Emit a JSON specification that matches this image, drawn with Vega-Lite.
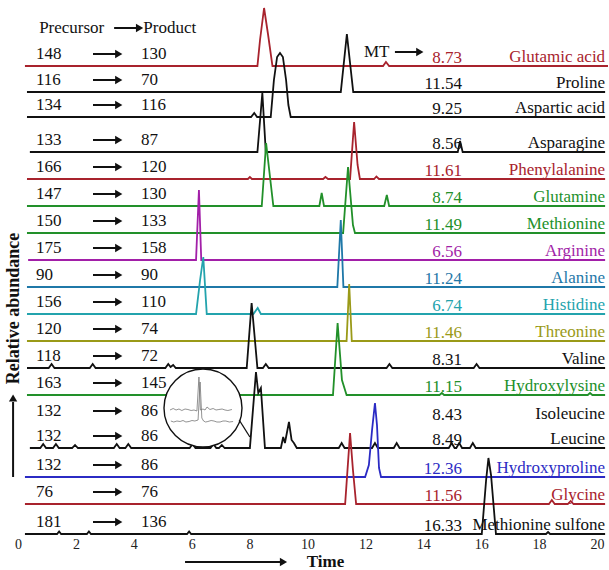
{
  "$schema": "https://vega.github.io/schema/vega-lite/v6.json",
  "width": 579,
  "height": 534,
  "autosize": {"type": "none"},
  "padding": {"left": 18, "top": 0, "right": 12, "bottom": 36},
  "background": "white",
  "config": {
    "view": {"stroke": null},
    "font": "Liberation Serif",
    "text": {"font": "Liberation Serif", "fontSize": 17}
  },
  "datasets": {
    "traces": [
      {"name":"Glutamic acid","t":0.24,"v":468},{"name":"Glutamic acid","t":8.27,"v":468},{"name":"Glutamic acid","t":8.36,"v":494},{"name":"Glutamic acid","t":8.5,"v":526},{"name":"Glutamic acid","t":8.64,"v":499},{"name":"Glutamic acid","t":8.79,"v":468},{"name":"Glutamic acid","t":12.61,"v":468},{"name":"Glutamic acid","t":12.71,"v":472},{"name":"Glutamic acid","t":12.82,"v":468},{"name":"Glutamic acid","t":20.38,"v":468},
      {"name":"Proline","t":0.31,"v":442},{"name":"Proline","t":11.15,"v":442},{"name":"Proline","t":11.36,"v":500},{"name":"Proline","t":11.58,"v":442},{"name":"Proline","t":20.28,"v":442},
      {"name":"Aspartic acid","t":0.31,"v":417},{"name":"Aspartic acid","t":8.05,"v":417},{"name":"Aspartic acid","t":8.16,"v":421},{"name":"Aspartic acid","t":8.26,"v":417},{"name":"Aspartic acid","t":8.73,"v":417},{"name":"Aspartic acid","t":8.84,"v":454},{"name":"Aspartic acid","t":8.95,"v":477},{"name":"Aspartic acid","t":9.05,"v":481},{"name":"Aspartic acid","t":9.15,"v":477},{"name":"Aspartic acid","t":9.26,"v":454},{"name":"Aspartic acid","t":9.34,"v":429},{"name":"Aspartic acid","t":9.42,"v":417},{"name":"Aspartic acid","t":20.28,"v":417},
      {"name":"Asparagine","t":0.41,"v":382},{"name":"Asparagine","t":8.27,"v":382},{"name":"Asparagine","t":8.44,"v":441},{"name":"Asparagine","t":8.56,"v":382},{"name":"Asparagine","t":15.19,"v":382},{"name":"Asparagine","t":15.27,"v":393},{"name":"Asparagine","t":15.36,"v":382},{"name":"Asparagine","t":20.28,"v":382},
      {"name":"Phenylalanine","t":0.31,"v":355},{"name":"Phenylalanine","t":7.94,"v":355},{"name":"Phenylalanine","t":8.01,"v":357},{"name":"Phenylalanine","t":8.08,"v":355},{"name":"Phenylalanine","t":10.54,"v":355},{"name":"Phenylalanine","t":10.62,"v":357},{"name":"Phenylalanine","t":10.71,"v":355},{"name":"Phenylalanine","t":11.47,"v":355},{"name":"Phenylalanine","t":11.61,"v":412},{"name":"Phenylalanine","t":11.73,"v":369},{"name":"Phenylalanine","t":11.81,"v":355},{"name":"Phenylalanine","t":12.3,"v":355},{"name":"Phenylalanine","t":12.38,"v":357.5},{"name":"Phenylalanine","t":12.47,"v":355},{"name":"Phenylalanine","t":20.28,"v":355},
      {"name":"Glutamine","t":0.31,"v":328},{"name":"Glutamine","t":8.42,"v":328},{"name":"Glutamine","t":8.57,"v":391},{"name":"Glutamine","t":8.82,"v":328},{"name":"Glutamine","t":10.41,"v":328},{"name":"Glutamine","t":10.49,"v":341},{"name":"Glutamine","t":10.57,"v":328},{"name":"Glutamine","t":12.65,"v":328},{"name":"Glutamine","t":12.74,"v":339},{"name":"Glutamine","t":12.82,"v":328},{"name":"Glutamine","t":20.28,"v":328},
      {"name":"Methionine","t":0.31,"v":301},{"name":"Methionine","t":11.23,"v":301},{"name":"Methionine","t":11.4,"v":367},{"name":"Methionine","t":11.57,"v":309},{"name":"Methionine","t":11.64,"v":301},{"name":"Methionine","t":20.28,"v":301},
      {"name":"Arginine","t":0.35,"v":274},{"name":"Arginine","t":6.15,"v":274},{"name":"Arginine","t":6.25,"v":344},{"name":"Arginine","t":6.33,"v":274},{"name":"Arginine","t":20.28,"v":274},
      {"name":"Alanine","t":0.31,"v":247},{"name":"Alanine","t":11.03,"v":247},{"name":"Alanine","t":11.15,"v":314},{"name":"Alanine","t":11.24,"v":247},{"name":"Alanine","t":20.28,"v":247},
      {"name":"Histidine","t":0.31,"v":220},{"name":"Histidine","t":6.15,"v":220},{"name":"Histidine","t":6.29,"v":254},{"name":"Histidine","t":6.4,"v":277},{"name":"Histidine","t":6.52,"v":220},{"name":"Histidine","t":8.13,"v":220},{"name":"Histidine","t":8.28,"v":226},{"name":"Histidine","t":8.39,"v":220},{"name":"Histidine","t":20.28,"v":220},
      {"name":"Threonine","t":0.31,"v":193},{"name":"Threonine","t":11.35,"v":193},{"name":"Threonine","t":11.44,"v":250},{"name":"Threonine","t":11.53,"v":193},{"name":"Threonine","t":20.28,"v":193},
      {"name":"Valine","t":0.31,"v":166},{"name":"Valine","t":1.06,"v":166},{"name":"Valine","t":1.16,"v":170},{"name":"Valine","t":1.26,"v":166},{"name":"Valine","t":2.48,"v":166},{"name":"Valine","t":2.58,"v":170},{"name":"Valine","t":2.68,"v":166},{"name":"Valine","t":5.09,"v":166},{"name":"Valine","t":5.19,"v":170},{"name":"Valine","t":5.27,"v":167},{"name":"Valine","t":5.36,"v":169},{"name":"Valine","t":5.45,"v":166},{"name":"Valine","t":7.9,"v":166},{"name":"Valine","t":8.07,"v":231},{"name":"Valine","t":8.27,"v":166},{"name":"Valine","t":8.46,"v":166},{"name":"Valine","t":8.56,"v":170},{"name":"Valine","t":8.66,"v":166},{"name":"Valine","t":12.73,"v":166},{"name":"Valine","t":12.83,"v":170},{"name":"Valine","t":12.93,"v":166},{"name":"Valine","t":15.74,"v":166},{"name":"Valine","t":15.84,"v":170},{"name":"Valine","t":15.94,"v":166},{"name":"Valine","t":20.28,"v":166},
      {"name":"Hydroxylysine","t":0.31,"v":139},{"name":"Hydroxylysine","t":10.88,"v":139},{"name":"Hydroxylysine","t":11.04,"v":211},{"name":"Hydroxylysine","t":11.19,"v":154},{"name":"Hydroxylysine","t":11.35,"v":139},{"name":"Hydroxylysine","t":14.56,"v":139},{"name":"Hydroxylysine","t":14.64,"v":141},{"name":"Hydroxylysine","t":14.72,"v":139},{"name":"Hydroxylysine","t":19.68,"v":139},{"name":"Hydroxylysine","t":19.76,"v":141},{"name":"Hydroxylysine","t":19.84,"v":139},{"name":"Hydroxylysine","t":20.28,"v":139},
      {"name":"Leucine","t":0.41,"v":86},{"name":"Leucine","t":0.77,"v":86},{"name":"Leucine","t":0.87,"v":90},{"name":"Leucine","t":0.97,"v":86},{"name":"Leucine","t":1.21,"v":86},{"name":"Leucine","t":1.31,"v":90},{"name":"Leucine","t":1.41,"v":86},{"name":"Leucine","t":1.87,"v":86},{"name":"Leucine","t":1.97,"v":89},{"name":"Leucine","t":2.07,"v":86},{"name":"Leucine","t":3.31,"v":86},{"name":"Leucine","t":3.41,"v":90},{"name":"Leucine","t":3.51,"v":86},{"name":"Leucine","t":3.71,"v":86},{"name":"Leucine","t":3.81,"v":90},{"name":"Leucine","t":3.91,"v":86},{"name":"Leucine","t":5.93,"v":86},{"name":"Leucine","t":6.03,"v":90},{"name":"Leucine","t":6.13,"v":86},{"name":"Leucine","t":6.65,"v":86},{"name":"Leucine","t":6.75,"v":90},{"name":"Leucine","t":6.85,"v":86},{"name":"Leucine","t":6.94,"v":86},{"name":"Leucine","t":7.04,"v":89},{"name":"Leucine","t":7.14,"v":86},{"name":"Leucine","t":8.01,"v":86},{"name":"Leucine","t":8.22,"v":162},{"name":"Leucine","t":8.3,"v":141},{"name":"Leucine","t":8.39,"v":146},{"name":"Leucine","t":8.53,"v":86},{"name":"Leucine","t":9.08,"v":86},{"name":"Leucine","t":9.16,"v":97},{"name":"Leucine","t":9.22,"v":91},{"name":"Leucine","t":9.36,"v":112},{"name":"Leucine","t":9.45,"v":94},{"name":"Leucine","t":9.53,"v":91},{"name":"Leucine","t":9.63,"v":86},{"name":"Leucine","t":11.08,"v":86},{"name":"Leucine","t":11.18,"v":91},{"name":"Leucine","t":11.28,"v":86},{"name":"Leucine","t":12.23,"v":86},{"name":"Leucine","t":12.33,"v":91},{"name":"Leucine","t":12.43,"v":86},{"name":"Leucine","t":12.98,"v":86},{"name":"Leucine","t":13.08,"v":91},{"name":"Leucine","t":13.18,"v":86},{"name":"Leucine","t":14.88,"v":86},{"name":"Leucine","t":14.98,"v":91},{"name":"Leucine","t":15.08,"v":86},{"name":"Leucine","t":15.14,"v":86},{"name":"Leucine","t":15.24,"v":91},{"name":"Leucine","t":15.34,"v":86},{"name":"Leucine","t":15.61,"v":86},{"name":"Leucine","t":15.71,"v":91},{"name":"Leucine","t":15.81,"v":86},{"name":"Leucine","t":20.28,"v":86},
      {"name":"Hydroxyproline","t":0.24,"v":57},{"name":"Hydroxyproline","t":11.99,"v":57},{"name":"Hydroxyproline","t":12.12,"v":69},{"name":"Hydroxyproline","t":12.23,"v":104},{"name":"Hydroxyproline","t":12.33,"v":131},{"name":"Hydroxyproline","t":12.4,"v":109},{"name":"Hydroxyproline","t":12.47,"v":66},{"name":"Hydroxyproline","t":12.54,"v":57},{"name":"Hydroxyproline","t":20.28,"v":57},
      {"name":"Glycine","t":0.24,"v":30},{"name":"Glycine","t":11.3,"v":30},{"name":"Glycine","t":11.47,"v":101},{"name":"Glycine","t":11.57,"v":64},{"name":"Glycine","t":11.68,"v":30},{"name":"Glycine","t":18.34,"v":30},{"name":"Glycine","t":18.44,"v":34},{"name":"Glycine","t":18.54,"v":30},{"name":"Glycine","t":18.99,"v":30},{"name":"Glycine","t":19.09,"v":33},{"name":"Glycine","t":19.19,"v":30},{"name":"Glycine","t":20.28,"v":30},
      {"name":"Methionine sulfone","t":0.24,"v":0},{"name":"Methionine sulfone","t":1.35,"v":0},{"name":"Methionine sulfone","t":1.42,"v":2.5},{"name":"Methionine sulfone","t":1.49,"v":0},{"name":"Methionine sulfone","t":2.38,"v":0},{"name":"Methionine sulfone","t":2.45,"v":2.5},{"name":"Methionine sulfone","t":2.52,"v":0},{"name":"Methionine sulfone","t":5.84,"v":0},{"name":"Methionine sulfone","t":5.91,"v":2.5},{"name":"Methionine sulfone","t":5.98,"v":0},{"name":"Methionine sulfone","t":16.02,"v":0},{"name":"Methionine sulfone","t":16.17,"v":54},{"name":"Methionine sulfone","t":16.25,"v":76},{"name":"Methionine sulfone","t":16.34,"v":59},{"name":"Methionine sulfone","t":16.51,"v":0},{"name":"Methionine sulfone","t":18.24,"v":0},{"name":"Methionine sulfone","t":18.31,"v":2},{"name":"Methionine sulfone","t":18.38,"v":0},{"name":"Methionine sulfone","t":20.28,"v":0}
    ],
    "labels": [
      {"name":"Glutamic acid","pre":"148","prod":"130","mt":"8.73","v":468},
      {"name":"Proline","pre":"116","prod":"70","mt":"11.54","v":442},
      {"name":"Aspartic acid","pre":"134","prod":"116","mt":"9.25","v":417},
      {"name":"Asparagine","pre":"133","prod":"87","mt":"8.56","v":382},
      {"name":"Phenylalanine","pre":"166","prod":"120","mt":"11.61","v":355},
      {"name":"Glutamine","pre":"147","prod":"130","mt":"8.74","v":328},
      {"name":"Methionine","pre":"150","prod":"133","mt":"11.49","v":301},
      {"name":"Arginine","pre":"175","prod":"158","mt":"6.56","v":274},
      {"name":"Alanine","pre":"90","prod":"90","mt":"11.24","v":247},
      {"name":"Histidine","pre":"156","prod":"110","mt":"6.74","v":220},
      {"name":"Threonine","pre":"120","prod":"74","mt":"11.46","v":193},
      {"name":"Valine","pre":"118","prod":"72","mt":"8.31","v":166},
      {"name":"Hydroxylysine","pre":"163","prod":"145","mt":"11.15","v":139},
      {"name":"Isoleucine","pre":"132","prod":"86","mt":"8.43","v":111},
      {"name":"Leucine","pre":"132","prod":"86","mt":"8.49","v":86},
      {"name":"Hydroxyproline","pre":"132","prod":"86","mt":"12.36","v":57},
      {"name":"Glycine","pre":"76","prod":"76","mt":"11.56","v":30},
      {"name":"Methionine sulfone","pre":"181","prod":"136","mt":"16.33","v":0}
    ],
    "inset": [
      {"s":"a","t":5.25,"v":124},{"s":"a","t":5.36,"v":125.5},{"s":"a","t":5.46,"v":124},{"s":"a","t":5.56,"v":125},{"s":"a","t":5.66,"v":123.5},{"s":"a","t":5.77,"v":125},{"s":"a","t":5.87,"v":124.5},{"s":"a","t":5.98,"v":123.5},{"s":"a","t":6.08,"v":124},{"s":"a","t":6.18,"v":123},{"s":"a","t":6.25,"v":157},{"s":"a","t":6.3,"v":124},{"s":"a","t":6.39,"v":125},{"s":"a","t":6.46,"v":124},{"s":"a","t":6.53,"v":127},{"s":"a","t":6.63,"v":124.5},{"s":"a","t":6.74,"v":125.5},{"s":"a","t":6.84,"v":124},{"s":"a","t":6.94,"v":124.5},{"s":"a","t":7.05,"v":125},{"s":"a","t":7.15,"v":124},{"s":"a","t":7.25,"v":123.5},{"s":"a","t":7.39,"v":124.5},
      {"s":"b","t":5.28,"v":113},{"s":"b","t":5.38,"v":112},{"s":"b","t":5.49,"v":113},{"s":"b","t":5.6,"v":112.5},{"s":"b","t":5.7,"v":113.5},{"s":"b","t":5.8,"v":112},{"s":"b","t":5.91,"v":112.5},{"s":"b","t":6.01,"v":113.5},{"s":"b","t":6.11,"v":113},{"s":"b","t":6.22,"v":114},{"s":"b","t":6.29,"v":152},{"s":"b","t":6.35,"v":116},{"s":"b","t":6.41,"v":113},{"s":"b","t":6.48,"v":112},{"s":"b","t":6.56,"v":112.5},{"s":"b","t":6.67,"v":113.5},{"s":"b","t":6.77,"v":113},{"s":"b","t":6.87,"v":112},{"s":"b","t":6.98,"v":112},{"s":"b","t":7.08,"v":113},{"s":"b","t":7.18,"v":113},{"s":"b","t":7.3,"v":112},{"s":"b","t":7.43,"v":112.5}
    ]
  },
  "layer": [
    {
      "data": {"name": "traces"},
      "mark": {"type": "line", "strokeWidth": 1.8, "clip": false},
      "encoding": {
        "x": {"field": "t", "type": "quantitative",
          "scale": {"domain": [0, 20], "nice": false, "zero": false},
          "axis": {"title": "Time", "values": [0,1,2,3,4,5,6,7,8,9,10,11,12,13,14,15,16,17,18,19,20], "format": "d",
            "domain": false, "ticks": false, "tickSize": 0, "grid": false,
            "labelFont": "Liberation Serif", "labelFontSize": 14, "labelColor": "#222", "labelPadding": 3,
            "labelFlush": false, "labelOverlap": false,
            "titleFont": "Liberation Serif", "titleFontSize": 17, "titleFontWeight": "bold", "titleColor": "#111",
            "titleX": 307, "titleY": 27, "titleAlign": "center", "titleBaseline": "middle"}},
        "y": {"field": "v", "type": "quantitative",
          "scale": {"domain": [0, 534], "nice": false, "zero": false},
          "axis": {"title": "Relative abundance", "labels": false, "ticks": false, "domain": false, "grid": false,
            "titleFont": "Liberation Serif", "titleFontSize": 18, "titleFontWeight": "bold", "titleColor": "#111",
            "titleX": -5, "titleY": 308, "titleAngle": -90, "titleAlign": "center", "titleBaseline": "middle"}},
        "color": {"field": "name", "type": "nominal", "legend": null,
          "scale": {
            "domain": ["Glutamic acid","Proline","Aspartic acid","Asparagine","Phenylalanine","Glutamine","Methionine","Arginine","Alanine","Histidine","Threonine","Valine","Hydroxylysine","Isoleucine","Leucine","Hydroxyproline","Glycine","Methionine sulfone"],
            "range": ["#a8232d","#111111","#111111","#111111","#a8232d","#22902a","#22902a","#a21fa8","#1f78a8","#23a3ad","#9a9a18","#111111","#22902a","#111111","#111111","#2b2bc4","#a8232d","#111111"]}},
        "detail": {"field": "name"}
      }
    },
    {
      "data": {"values": [{"t": 6.39, "v": 126}]},
      "mark": {"type": "point", "shape": "circle", "size": 6084, "filled": true, "fill": "white", "stroke": "#111", "strokeWidth": 1.4, "opacity": 1},
      "encoding": {"x": {"field": "t", "type": "quantitative"}, "y": {"field": "v", "type": "quantitative"}}
    },
    {
      "data": {"name": "inset"},
      "mark": {"type": "line", "strokeWidth": 0.8, "color": "#777"},
      "encoding": {"x": {"field": "t", "type": "quantitative"}, "y": {"field": "v", "type": "quantitative"}, "detail": {"field": "s"}}
    },
    {
      "data": {"values": [{"t": 7.64, "v": 114, "t2": 8.01, "v2": 97}]},
      "mark": {"type": "rule", "strokeWidth": 1.3, "color": "#111"},
      "encoding": {"x": {"field": "t", "type": "quantitative"}, "y": {"field": "v", "type": "quantitative"}, "x2": {"field": "t2"}, "y2": {"field": "v2"}}
    },
    {
      "data": {"name": "labels"},
      "mark": {"type": "text", "align": "left", "baseline": "middle", "dy": -12, "color": "#111"},
      "encoding": {"x": {"datum": 0.62}, "y": {"field": "v", "type": "quantitative"}, "text": {"field": "pre"}}
    },
    {
      "data": {"name": "labels"},
      "mark": {"type": "text", "align": "left", "baseline": "middle", "dy": -12, "color": "#111"},
      "encoding": {"x": {"datum": 4.25}, "y": {"field": "v", "type": "quantitative"}, "text": {"field": "prod"}}
    },
    {
      "data": {"name": "labels"},
      "mark": {"type": "rule", "strokeWidth": 2, "color": "#111", "yOffset": -12, "y2Offset": -12},
      "encoding": {"x": {"datum": 2.59}, "x2": {"datum": 3.39}, "y": {"field": "v", "type": "quantitative"}}
    },
    {
      "data": {"name": "labels"},
      "mark": {"type": "point", "shape": "triangle-right", "filled": true, "size": 70, "color": "#111", "opacity": 1, "yOffset": -12},
      "encoding": {"x": {"datum": 3.48}, "y": {"field": "v", "type": "quantitative"}}
    },
    {
      "data": {"name": "labels"},
      "mark": {"type": "text", "align": "right", "baseline": "middle", "dy": -8},
      "encoding": {"x": {"datum": 15.34}, "y": {"field": "v", "type": "quantitative"}, "text": {"field": "mt"},
        "color": {"field": "name", "type": "nominal", "legend": null}}
    },
    {
      "data": {"name": "labels"},
      "mark": {"type": "text", "align": "right", "baseline": "middle", "dy": -9},
      "encoding": {"x": {"datum": 20.28}, "y": {"field": "v", "type": "quantitative"}, "text": {"field": "name"},
        "color": {"field": "name", "type": "nominal", "legend": null}}
    },
    {
      "data": {"values": [{"txt": "Precursor", "t": 0.73, "v": 506}, {"txt": "Product", "t": 4.33, "v": 506}, {"txt": "MT", "t": 11.95, "v": 482}]},
      "mark": {"type": "text", "align": "left", "baseline": "middle", "color": "#111"},
      "encoding": {"x": {"field": "t", "type": "quantitative"}, "y": {"field": "v", "type": "quantitative"}, "text": {"field": "txt"}}
    },
    {
      "data": {"values": [{"t": 3.32, "t2": 4.1, "v": 506}, {"t": 13.02, "t2": 13.78, "v": 482}, {"t": 5.77, "t2": 9.05, "v": -28}]},
      "mark": {"type": "rule", "strokeWidth": 2, "color": "#111"},
      "encoding": {"x": {"field": "t", "type": "quantitative"}, "x2": {"field": "t2"}, "y": {"field": "v", "type": "quantitative"}}
    },
    {
      "data": {"values": [{"t": 4.2, "v": 506}, {"t": 13.88, "v": 482}, {"t": 9.17, "v": -28}]},
      "mark": {"type": "point", "shape": "triangle-right", "filled": true, "size": 70, "color": "#111", "opacity": 1},
      "encoding": {"x": {"field": "t", "type": "quantitative"}, "y": {"field": "v", "type": "quantitative"}}
    },
    {
      "data": {"values": [{"t": -0.17, "v": 57, "v2": 132}]},
      "mark": {"type": "rule", "strokeWidth": 2, "color": "#111"},
      "encoding": {"x": {"field": "t", "type": "quantitative"}, "y": {"field": "v", "type": "quantitative"}, "y2": {"field": "v2"}}
    },
    {
      "data": {"values": [{"t": -0.17, "v": 136}]},
      "mark": {"type": "point", "shape": "triangle-up", "filled": true, "size": 70, "color": "#111", "opacity": 1},
      "encoding": {"x": {"field": "t", "type": "quantitative"}, "y": {"field": "v", "type": "quantitative"}}
    }
  ]
}
